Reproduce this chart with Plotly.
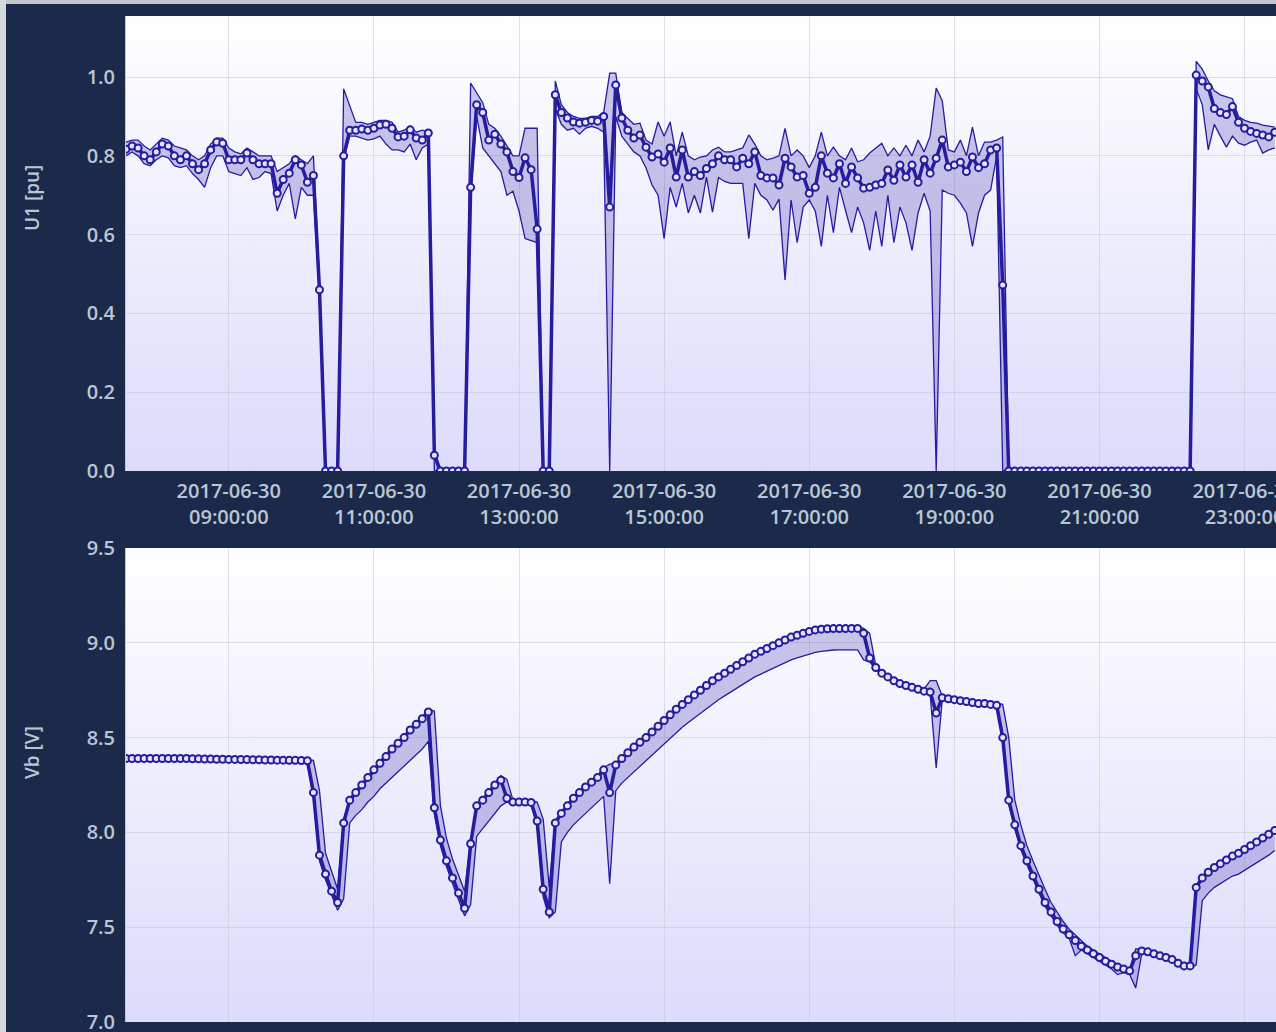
import base64
import pandas as pd
import plotly.graph_objects as go

# ---------------- data (5-minute samples, 2017-06-30 07:35 .. 23:25) ----------------
START = "2017-06-30 07:35:00"
N_POINTS = 191

u1_mean = [
    0.817, 0.825, 0.820, 0.800, 0.790, 0.810, 0.830, 0.825, 0.800, 0.790,
    0.800, 0.780, 0.765, 0.780, 0.815, 0.835, 0.832, 0.790, 0.790, 0.790,
    0.807, 0.790, 0.780, 0.780, 0.780, 0.705, 0.740, 0.756, 0.790, 0.777,
    0.733, 0.750, 0.460, 0.000, 0.000, 0.000, 0.800, 0.865, 0.865, 0.868,
    0.865, 0.870, 0.878, 0.880, 0.870, 0.848, 0.850, 0.866, 0.845, 0.840,
    0.858, 0.040, 0.000, 0.000, 0.000, 0.000, 0.000, 0.720, 0.930, 0.910,
    0.840, 0.855, 0.830, 0.810, 0.760, 0.745, 0.795, 0.765, 0.614, 0.000,
    0.000, 0.955, 0.910, 0.896, 0.886, 0.883, 0.885, 0.890, 0.888, 0.900,
    0.670, 0.980, 0.896, 0.865, 0.845, 0.853, 0.822, 0.797, 0.805, 0.784,
    0.820, 0.746, 0.815, 0.746, 0.760, 0.750, 0.768, 0.780, 0.800, 0.790,
    0.790, 0.772, 0.794, 0.780, 0.810, 0.750, 0.744, 0.744, 0.726, 0.794,
    0.772, 0.746, 0.750, 0.705, 0.720, 0.800, 0.756, 0.744, 0.780, 0.730,
    0.772, 0.744, 0.718, 0.720, 0.726, 0.730, 0.764, 0.738, 0.777, 0.746,
    0.777, 0.733, 0.790, 0.756, 0.794, 0.840, 0.772, 0.777, 0.784, 0.760,
    0.797, 0.770, 0.780, 0.815, 0.820, 0.472, 0.000, 0.000, 0.000, 0.000,
    0.000, 0.000, 0.000, 0.000, 0.000, 0.000, 0.000, 0.000, 0.000, 0.000,
    0.000, 0.000, 0.000, 0.000, 0.000, 0.000, 0.000, 0.000, 0.000, 0.000,
    0.000, 0.000, 0.000, 0.000, 0.000, 0.000, 0.000, 1.005, 0.990, 0.975,
    0.920, 0.910, 0.905, 0.925, 0.885, 0.870, 0.862, 0.857, 0.853, 0.848,
    0.860,
]

u1_min = [
    0.800, 0.810, 0.800, 0.780, 0.775, 0.790, 0.800, 0.795, 0.775, 0.770,
    0.775, 0.755, 0.740, 0.720, 0.770, 0.800, 0.800, 0.760, 0.755, 0.750,
    0.770, 0.740, 0.745, 0.760, 0.755, 0.660, 0.700, 0.730, 0.640, 0.720,
    0.700, 0.700, 0.440, 0.000, 0.000, 0.000, 0.790, 0.850, 0.850, 0.845,
    0.840, 0.843, 0.850, 0.830, 0.815, 0.815, 0.810, 0.830, 0.790, 0.820,
    0.830, 0.000, 0.000, 0.000, 0.000, 0.000, 0.000, 0.700, 0.900, 0.820,
    0.800, 0.780, 0.760, 0.700, 0.710, 0.660, 0.590, 0.585, 0.580, 0.000,
    0.000, 0.920, 0.880, 0.865, 0.870, 0.855, 0.870, 0.875, 0.870, 0.860,
    0.000, 0.900, 0.850, 0.830, 0.810, 0.800, 0.770, 0.726, 0.700, 0.590,
    0.720, 0.670, 0.730, 0.655, 0.700, 0.655, 0.746, 0.657, 0.745, 0.735,
    0.730, 0.730, 0.730, 0.590, 0.730, 0.700, 0.688, 0.662, 0.690, 0.485,
    0.688, 0.580, 0.670, 0.688, 0.660, 0.570, 0.700, 0.605, 0.720, 0.662,
    0.605, 0.670, 0.630, 0.560, 0.660, 0.570, 0.700, 0.580, 0.670, 0.630,
    0.560, 0.655, 0.705, 0.660, 0.000, 0.713, 0.705, 0.700, 0.680, 0.655,
    0.570, 0.655, 0.700, 0.713, 0.800, 0.000, 0.000, 0.000, 0.000, 0.000,
    0.000, 0.000, 0.000, 0.000, 0.000, 0.000, 0.000, 0.000, 0.000, 0.000,
    0.000, 0.000, 0.000, 0.000, 0.000, 0.000, 0.000, 0.000, 0.000, 0.000,
    0.000, 0.000, 0.000, 0.000, 0.000, 0.000, 0.000, 0.970, 0.930, 0.815,
    0.880, 0.850, 0.822, 0.850, 0.832, 0.827, 0.835, 0.840, 0.807, 0.815,
    0.820,
]

u1_max = [
    0.835, 0.840, 0.840, 0.825, 0.815, 0.830, 0.845, 0.840, 0.825, 0.820,
    0.815, 0.800, 0.790, 0.800, 0.830, 0.845, 0.845, 0.820, 0.810, 0.805,
    0.820, 0.810, 0.800, 0.800, 0.800, 0.760, 0.770, 0.780, 0.800, 0.790,
    0.780, 0.800, 0.480, 0.000, 0.000, 0.000, 0.970, 0.930, 0.885, 0.885,
    0.880, 0.885, 0.890, 0.890, 0.885, 0.860, 0.865, 0.875, 0.860, 0.865,
    0.860, 0.060, 0.000, 0.000, 0.000, 0.000, 0.000, 0.985, 0.960, 0.935,
    0.880, 0.870, 0.850, 0.825, 0.800, 0.800, 0.870, 0.870, 0.870, 0.000,
    0.000, 0.990, 0.930, 0.910, 0.900, 0.895, 0.895, 0.900, 0.900, 0.910,
    1.010, 1.010, 0.910, 0.895, 0.880, 0.883, 0.840, 0.830, 0.886, 0.850,
    0.886, 0.800, 0.860, 0.800, 0.790, 0.797, 0.800, 0.815, 0.822, 0.810,
    0.810, 0.815, 0.820, 0.853, 0.830, 0.800, 0.790, 0.794, 0.800, 0.870,
    0.800, 0.815, 0.800, 0.770, 0.800, 0.860, 0.800, 0.822, 0.800, 0.790,
    0.820, 0.785, 0.790, 0.807, 0.820, 0.832, 0.800, 0.820, 0.800, 0.827,
    0.800, 0.840, 0.810, 0.850, 0.972, 0.940, 0.815, 0.810, 0.840, 0.800,
    0.873, 0.800, 0.835, 0.835, 0.840, 0.848, 0.000, 0.000, 0.000, 0.000,
    0.000, 0.000, 0.000, 0.000, 0.000, 0.000, 0.000, 0.000, 0.000, 0.000,
    0.000, 0.000, 0.000, 0.000, 0.000, 0.000, 0.000, 0.000, 0.000, 0.000,
    0.000, 0.000, 0.000, 0.000, 0.000, 0.000, 0.000, 1.040, 1.020, 0.990,
    0.965, 0.955, 0.950, 0.945, 0.900, 0.890, 0.885, 0.883, 0.878, 0.875,
    0.873,
]

vb_mean = [
    8.390, 8.390, 8.390, 8.390, 8.390, 8.390, 8.390, 8.390, 8.390, 8.390,
    8.390, 8.388, 8.388, 8.387, 8.387, 8.386, 8.386, 8.385, 8.385, 8.384,
    8.384, 8.383, 8.383, 8.382, 8.382, 8.381, 8.381, 8.380, 8.380, 8.379,
    8.378, 8.210, 7.880, 7.780, 7.690, 7.630, 8.050, 8.170, 8.210, 8.250,
    8.290, 8.330, 8.365, 8.400, 8.440, 8.470, 8.500, 8.540, 8.570, 8.600,
    8.635, 8.130, 7.960, 7.850, 7.760, 7.680, 7.600, 7.940, 8.140, 8.170,
    8.210, 8.250, 8.275, 8.180, 8.160, 8.160, 8.160, 8.158, 8.060, 7.700,
    7.580, 8.050, 8.100, 8.140, 8.180, 8.210, 8.240, 8.265, 8.290, 8.330,
    8.210, 8.355, 8.390, 8.420, 8.450, 8.475, 8.500, 8.530, 8.560, 8.590,
    8.620, 8.650, 8.675, 8.700, 8.725, 8.750, 8.775, 8.800, 8.820, 8.840,
    8.860, 8.880, 8.900, 8.920, 8.940, 8.955, 8.970, 8.985, 9.000, 9.015,
    9.030, 9.040, 9.050, 9.060, 9.068, 9.072, 9.074, 9.075, 9.075, 9.075,
    9.076, 9.076, 9.050, 8.920, 8.870, 8.840, 8.820, 8.800, 8.785, 8.775,
    8.765, 8.755, 8.745, 8.740, 8.630, 8.710, 8.705, 8.700, 8.695, 8.690,
    8.685, 8.680, 8.680, 8.675, 8.670, 8.500, 8.170, 8.040, 7.930, 7.850,
    7.770, 7.700, 7.630, 7.580, 7.530, 7.490, 7.460, 7.430, 7.400, 7.380,
    7.360, 7.340, 7.320, 7.305, 7.290, 7.280, 7.270, 7.350, 7.375, 7.370,
    7.360, 7.350, 7.340, 7.330, 7.310, 7.296, 7.296, 7.710, 7.760, 7.790,
    7.815, 7.835, 7.855, 7.875, 7.890, 7.910, 7.930, 7.950, 7.970, 7.990,
    8.010,
]

vb_min = [
    8.382, 8.382, 8.382, 8.382, 8.382, 8.382, 8.382, 8.382, 8.382, 8.382,
    8.382, 8.380, 8.380, 8.379, 8.379, 8.378, 8.378, 8.377, 8.377, 8.376,
    8.376, 8.375, 8.375, 8.374, 8.374, 8.373, 8.373, 8.372, 8.372, 8.371,
    8.370, 8.180, 7.850, 7.750, 7.670, 7.590, 7.650, 8.050, 8.090, 8.120,
    8.160, 8.190, 8.230, 8.260, 8.290, 8.320, 8.350, 8.380, 8.410, 8.440,
    8.480, 8.100, 7.930, 7.820, 7.730, 7.650, 7.560, 7.620, 7.980, 8.020,
    8.060, 8.100, 8.140, 8.160, 8.150, 8.150, 8.150, 8.145, 8.030, 7.660,
    7.550, 7.580, 7.950, 8.000, 8.040, 8.070, 8.100, 8.130, 8.160, 8.190,
    7.730, 8.220, 8.260, 8.290, 8.320, 8.350, 8.380, 8.410, 8.440, 8.470,
    8.500, 8.530, 8.555, 8.580, 8.605, 8.630, 8.655, 8.680, 8.700, 8.720,
    8.740, 8.760, 8.780, 8.800, 8.820, 8.835, 8.850, 8.865, 8.880, 8.895,
    8.910, 8.920, 8.930, 8.940, 8.950, 8.955, 8.960, 8.962, 8.963, 8.963,
    8.963, 8.963, 8.910, 8.900, 8.860, 8.830, 8.810, 8.790, 8.775, 8.765,
    8.755, 8.745, 8.735, 8.730, 8.340, 8.700, 8.695, 8.690, 8.685, 8.680,
    8.675, 8.670, 8.670, 8.665, 8.660, 8.480, 8.150, 8.020, 7.910, 7.830,
    7.750, 7.680, 7.610, 7.560, 7.510, 7.470, 7.440, 7.350, 7.380, 7.360,
    7.340, 7.320, 7.300, 7.280, 7.250, 7.260, 7.250, 7.180, 7.360, 7.360,
    7.350, 7.340, 7.330, 7.320, 7.300, 7.285, 7.285, 7.300, 7.640, 7.680,
    7.710, 7.730, 7.750, 7.770, 7.780, 7.800, 7.820, 7.840, 7.860, 7.880,
    7.905,
]

vb_max = [
    8.396, 8.396, 8.396, 8.396, 8.396, 8.396, 8.396, 8.396, 8.396, 8.396,
    8.396, 8.394, 8.394, 8.393, 8.393, 8.392, 8.392, 8.391, 8.391, 8.390,
    8.390, 8.389, 8.389, 8.388, 8.388, 8.387, 8.387, 8.386, 8.386, 8.385,
    8.384, 8.380, 8.220, 7.890, 7.790, 7.700, 8.070, 8.180, 8.220, 8.260,
    8.300, 8.340, 8.375, 8.410, 8.450, 8.480, 8.510, 8.550, 8.580, 8.610,
    8.650, 8.640, 8.140, 7.970, 7.860, 7.770, 7.690, 7.950, 8.150, 8.180,
    8.220, 8.260, 8.300, 8.280, 8.170, 8.170, 8.170, 8.168, 8.160, 8.070,
    7.710, 8.060, 8.110, 8.150, 8.190, 8.220, 8.250, 8.275, 8.300, 8.340,
    8.360, 8.365, 8.400, 8.430, 8.460, 8.485, 8.510, 8.540, 8.570, 8.600,
    8.630, 8.660, 8.685, 8.710, 8.735, 8.760, 8.785, 8.810, 8.830, 8.850,
    8.870, 8.890, 8.910, 8.930, 8.950, 8.965, 8.980, 8.995, 9.010, 9.025,
    9.040, 9.050, 9.060, 9.070, 9.078, 9.082, 9.084, 9.085, 9.085, 9.085,
    9.086, 9.086, 9.076, 9.050, 8.880, 8.850, 8.830, 8.810, 8.795, 8.785,
    8.775, 8.765, 8.755, 8.800, 8.800, 8.720, 8.715, 8.710, 8.705, 8.700,
    8.695, 8.690, 8.690, 8.685, 8.680, 8.675, 8.500, 8.170, 8.040, 7.930,
    7.850, 7.770, 7.700, 7.630, 7.580, 7.530, 7.490, 7.460, 7.430, 7.400,
    7.380, 7.360, 7.340, 7.320, 7.305, 7.290, 7.280, 7.385, 7.385, 7.380,
    7.370, 7.360, 7.350, 7.340, 7.320, 7.305, 7.305, 7.720, 7.770, 7.800,
    7.825, 7.845, 7.865, 7.885, 7.900, 7.920, 7.940, 7.960, 7.980, 8.000,
    8.020,
]

for arr in (u1_mean, u1_min, u1_max, vb_mean, vb_min, vb_max):
    assert len(arr) == N_POINTS, len(arr)

times = pd.date_range(START, periods=N_POINTS, freq="5min")

x_range = ["2017-06-30 07:35:00", "2017-06-30 23:26:00"]
u1_range = [0.0, 1.155]
vb_range = [7.0, 9.5]
u1_ticks = [0.0, 0.2, 0.4, 0.6, 0.8, 1.0]
vb_ticks = [7.0, 7.5, 8.0, 8.5, 9.0, 9.5]

# ---------------- style ----------------
W, H = 1276, 1032
ML = 126
NAVY = "#1b2a4a"
LINE = "rgb(38,28,158)"
BAND = "rgba(50,40,170,0.25)"
TXT = "#b9c7d4"
GRID = "rgba(190,190,205,0.45)"
FONT = "Open Sans"

top_dom = [1 - 471 / H, 1 - 16 / H]
bot_dom = [1 - 1022 / H, 1 - 548 / H]

svg = ("<svg xmlns='http://www.w3.org/2000/svg' width='10' height='100' preserveAspectRatio='none'>"
       "<defs><linearGradient id='g' x1='0' y1='0' x2='0' y2='1'>"
       "<stop offset='0' stop-color='#ffffff'/><stop offset='1' stop-color='#dcdbfb'/>"
       "</linearGradient></defs><rect width='10' height='100' fill='url(#g)'/></svg>")
grad_src = "data:image/svg+xml;base64," + base64.b64encode(svg.encode()).decode()

fig = go.Figure()


def add_band(xa, ya, lo, hi, mid):
    fig.add_trace(go.Scatter(x=times, y=lo, xaxis=xa, yaxis=ya, mode="lines",
                             line=dict(color=LINE, width=1.3), showlegend=False,
                             hoverinfo="skip"))
    fig.add_trace(go.Scatter(x=times, y=hi, xaxis=xa, yaxis=ya, mode="lines",
                             line=dict(color=LINE, width=1.3), fill="tonexty",
                             fillcolor=BAND, showlegend=False, hoverinfo="skip"))
    fig.add_trace(go.Scatter(x=times, y=mid, xaxis=xa, yaxis=ya, mode="lines+markers",
                             line=dict(color=LINE, width=3.5),
                             marker=dict(symbol="circle", size=7, color="rgb(228,228,250)",
                                         line=dict(color=LINE, width=2)),
                             showlegend=False))


add_band("x", "y", u1_min, u1_max, u1_mean)
add_band("x2", "y2", vb_min, vb_max, vb_mean)

axis_font = dict(family=FONT, size=20, color=TXT, weight=600)
xcommon = dict(range=x_range, type="date", dtick=2 * 3600 * 1000,
               tick0="2017-06-30 09:00:00", showgrid=True, gridcolor=GRID,
               gridwidth=1, zeroline=False, automargin=False,
               tickfont=axis_font, showline=False, ticks="",
               ticklabeloverflow="allow")
ycommon = dict(showgrid=True, gridcolor=GRID, gridwidth=1, zeroline=False,
               automargin=False, tickfont=axis_font, ticks="", showline=True,
               linecolor="#c4c7da", linewidth=1, ticklabelstandoff=6,
               ticklabeloverflow="allow")

title_font = dict(family=FONT, size=19, color=TXT, weight=600)

fig.update_layout(
    width=W, height=H,
    margin=dict(l=ML, r=0, t=0, b=0, autoexpand=False),
    paper_bgcolor=NAVY, plot_bgcolor="#eeeefc",
    font=dict(family=FONT, color=TXT),
    showlegend=False,
    xaxis=dict(**xcommon, domain=[0, 1], anchor="y",
               tickformat="%Y-%m-%d<br>%H:%M:%S", showticklabels=True,
               ticklabelstandoff=6),
    yaxis=dict(**ycommon, domain=top_dom, anchor="x", range=u1_range,
               tickvals=u1_ticks, tickformat=".1f"),
    xaxis2=dict(**xcommon, domain=[0, 1], anchor="y2", showticklabels=False),
    yaxis2=dict(**ycommon, domain=bot_dom, anchor="x2", range=vb_range,
                tickvals=vb_ticks, tickformat=".1f"),
    images=[
        dict(source=grad_src, xref="paper", yref="paper", x=0, y=top_dom[1],
             sizex=1, sizey=top_dom[1] - top_dom[0], sizing="stretch",
             xanchor="left", yanchor="top", layer="below"),
        dict(source=grad_src, xref="paper", yref="paper", x=0, y=bot_dom[1],
             sizex=1, sizey=bot_dom[1] - bot_dom[0], sizing="stretch",
             xanchor="left", yanchor="top", layer="below"),
    ],
    annotations=[
        dict(text="U1 [pu]", xref="paper", yref="paper", x=(32 - ML) / (W - ML),
             y=1 - 198 / H, textangle=-90, showarrow=False, font=title_font,
             xanchor="center", yanchor="middle"),
        dict(text="Vb [V]", xref="paper", yref="paper", x=(32 - ML) / (W - ML),
             y=1 - 753 / H, textangle=-90, showarrow=False, font=title_font,
             xanchor="center", yanchor="middle"),
    ],
    shapes=[
        dict(type="rect", xref="paper", yref="paper", x0=-ML / (W - ML), x1=1,
             y0=1 - 4 / H, y1=1, fillcolor="#c3c7cd", line=dict(width=0), layer="above"),
        dict(type="rect", xref="paper", yref="paper", x0=-ML / (W - ML),
             x1=(6 - ML) / (W - ML), y0=0, y1=1, fillcolor="#d5d8dc",
             line=dict(width=0), layer="above"),
    ],
)

fig.write_html(
    "out.html",
    config={"displayModeBar": False},
    post_script="document.body.style.margin='0px';document.body.style.overflow='hidden';",
)
